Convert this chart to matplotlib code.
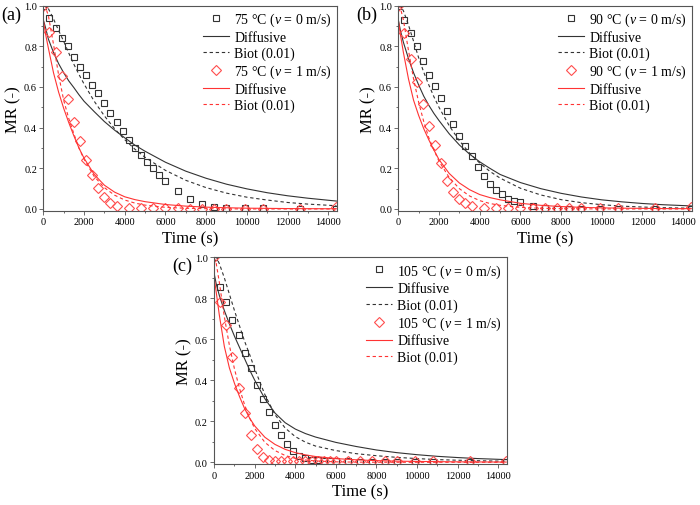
import matplotlib
matplotlib.use('Agg')
import matplotlib.pyplot as plt
from matplotlib.ticker import MultipleLocator

plt.rcParams['font.family'] = ['Liberation Serif', 'DejaVu Serif']
plt.rcParams['mathtext.fontset'] = 'custom'
plt.rcParams['mathtext.rm'] = 'Liberation Serif'
plt.rcParams['mathtext.it'] = 'Liberation Serif:italic'

# experimental sampling times (s)
t_exp = [0, 300, 600, 900, 1200, 1500, 1800, 2100, 2400, 2700, 3000, 3300, 3600,
         3900, 4200, 4500, 4800, 5100, 5400, 5700, 6000,
         6600, 7200, 7800, 8400, 9000, 9900, 10800, 12600, 14400]
t_exp_fast = [0, 300, 600, 900, 1200, 1500, 1800, 2100, 2400, 2700, 3000, 3300, 3600,
              4200, 4800, 5400, 6000, 6600, 7200, 7800, 8400, 9000, 9900, 10800, 12600, 14400]

# model curve times (s)
t_mod = [0, 100, 250, 500, 750, 1000, 1250, 1500, 1750, 2000, 2500, 3000, 3500,
         4000, 4500, 5000, 6000, 7000, 8000, 9000, 10000, 11000, 12000, 13000, 14400]

# (a) 75 C
mr_75_v0 = [1.0, 0.94, 0.89, 0.84, 0.80, 0.75, 0.70, 0.66, 0.61, 0.57, 0.52, 0.47, 0.43,
            0.385, 0.34, 0.30, 0.265, 0.23, 0.20, 0.165, 0.14,
            0.09, 0.05, 0.025, 0.012, 0.006, 0.004, 0.003, 0.002, 0.001]
mr_75_v1 = [1.0, 0.87, 0.77, 0.655, 0.54, 0.43, 0.335, 0.24, 0.165, 0.105, 0.06, 0.03, 0.013,
            0.004, 0.004, 0.003, 0.003, 0.003, 0.002, 0.002, 0.002, 0.002, 0.002, 0.002, 0.002, 0.008]
dif_75_v0 = [0.93, 0.895, 0.835, 0.77, 0.715, 0.67, 0.63, 0.597, 0.562, 0.53, 0.479, 0.43, 0.388,
             0.35, 0.314, 0.284, 0.23, 0.186, 0.151, 0.122, 0.099, 0.08, 0.065, 0.053, 0.039]
bio_75_v0 = [1.0, 1.0, 0.985, 0.935, 0.878, 0.825, 0.767, 0.712, 0.662, 0.615, 0.53, 0.458, 0.395,
             0.341, 0.294, 0.254, 0.19, 0.141, 0.105, 0.078, 0.058, 0.044, 0.032, 0.024, 0.016]
dif_75_v1 = [0.93, 0.865, 0.79, 0.67, 0.575, 0.495, 0.425, 0.36, 0.30, 0.25, 0.17, 0.117, 0.083,
             0.06, 0.046, 0.036, 0.022, 0.014, 0.009, 0.006, 0.004, 0.003, 0.002, 0.0015, 0.001]
bio_75_v1 = [1.0, 0.995, 0.95, 0.81, 0.66, 0.535, 0.445, 0.37, 0.30, 0.245, 0.16, 0.105, 0.068,
             0.044, 0.029, 0.019, 0.008, 0.0035, 0.0015, 0.0007, 0.0003, 0.0, 0.0, 0.0, 0.0]

# (b) 90 C
mr_90_v0 = [1.0, 0.93, 0.864, 0.80, 0.73, 0.66, 0.607, 0.546, 0.48, 0.418, 0.36, 0.311, 0.262,
            0.205, 0.164, 0.123, 0.093, 0.074, 0.05, 0.041, 0.033,
            0.013, 0.005, 0.002, 0.001, 0.001, 0.001, 0.001, 0.001, 0.001]
mr_90_v1 = [1.0, 0.864, 0.738, 0.623, 0.516, 0.41, 0.315, 0.225, 0.14, 0.085, 0.05, 0.03, 0.016,
            0.005, 0.004, 0.004, 0.004, 0.004, 0.003, 0.003, 0.003, 0.003, 0.004, 0.005, 0.005, 0.008]
dif_90_v0 = [0.93, 0.88, 0.82, 0.74, 0.67, 0.61, 0.555, 0.51, 0.47, 0.435, 0.37, 0.315, 0.27,
             0.232, 0.20, 0.17, 0.13, 0.10, 0.077, 0.059, 0.045, 0.035, 0.027, 0.021, 0.015]
bio_90_v0 = [1.0, 1.0, 0.975, 0.905, 0.825, 0.744, 0.673, 0.61, 0.552, 0.50, 0.41, 0.336, 0.275,
             0.226, 0.185, 0.152, 0.102, 0.069, 0.046, 0.031, 0.021, 0.014, 0.0095, 0.0064, 0.0037]
dif_90_v1 = [0.93, 0.86, 0.77, 0.64, 0.535, 0.46, 0.395, 0.34, 0.29, 0.243, 0.175, 0.128, 0.095,
             0.071, 0.056, 0.045, 0.028, 0.018, 0.012, 0.008, 0.0055, 0.004, 0.003, 0.002, 0.0015]
bio_90_v1 = [1.0, 0.99, 0.93, 0.78, 0.64, 0.525, 0.43, 0.35, 0.29, 0.235, 0.155, 0.10, 0.064,
             0.041, 0.027, 0.018, 0.008, 0.0035, 0.0015, 0.0007, 0.0003, 0.0, 0.0, 0.0, 0.0]

# (c) 105 C
t_exp_c = [0, 300, 600, 900, 1200, 1500, 1800, 2100, 2400, 2700, 3000, 3300, 3600,
           3900, 4200, 4500, 4800, 5100, 5400, 5700, 6000,
           6600, 7200, 7800, 8400, 9000, 9900, 10800, 12600, 14400]
mr_105_v0 = [1.0, 0.854, 0.78, 0.696, 0.623, 0.533, 0.46, 0.379, 0.309, 0.244, 0.184, 0.133, 0.089,
             0.054, 0.033, 0.02, 0.013, 0.01, 0.008, 0.006, 0.005,
             0.004, 0.003, 0.003, 0.002, 0.002, 0.002, 0.002, 0.002, 0.002]
mr_105_v1 = [1.0, 0.78, 0.67, 0.512, 0.361, 0.24, 0.135, 0.065, 0.028, 0.013, 0.008, 0.006, 0.005,
             0.004, 0.004, 0.004, 0.004, 0.005, 0.005, 0.005, 0.005,
             0.005, 0.005, 0.005, 0.005, 0.005, 0.005, 0.006, 0.008, 0.008]
dif_105_v0 = [0.92, 0.87, 0.815, 0.74, 0.675, 0.615, 0.56, 0.505, 0.45, 0.40, 0.31, 0.24, 0.193,
              0.162, 0.14, 0.123, 0.097, 0.077, 0.06, 0.047, 0.037, 0.029, 0.023, 0.018, 0.013]
bio_105_v0 = [1.0, 1.0, 0.97, 0.90, 0.82, 0.74, 0.665, 0.59, 0.525, 0.455, 0.33, 0.232, 0.167,
              0.125, 0.098, 0.079, 0.057, 0.042, 0.032, 0.024, 0.018, 0.013, 0.01, 0.0075, 0.005]
dif_105_v1 = [0.90, 0.83, 0.72, 0.565, 0.46, 0.385, 0.32, 0.262, 0.215, 0.177, 0.122, 0.087, 0.063,
              0.047, 0.036, 0.028, 0.018, 0.012, 0.008, 0.0055, 0.004, 0.003, 0.002, 0.0015, 0.001]
bio_105_v1 = [1.0, 0.97, 0.88, 0.71, 0.57, 0.455, 0.36, 0.28, 0.215, 0.165, 0.097, 0.057, 0.033,
              0.019, 0.011, 0.0065, 0.002, 0.0007, 0.0002, 0.0, 0.0, 0.0, 0.0, 0.0, 0.0]

panels = [
    ('(a)', '75', t_exp, mr_75_v0, t_exp_fast, mr_75_v1, dif_75_v0, bio_75_v0, dif_75_v1, bio_75_v1),
    ('(b)', '90', t_exp, mr_90_v0, t_exp_fast, mr_90_v1, dif_90_v0, bio_90_v0, dif_90_v1, bio_90_v1),
    ('(c)', '105', t_exp_c, mr_105_v0, t_exp_c, mr_105_v1, dif_105_v0, bio_105_v0, dif_105_v1, bio_105_v1),
]

BLK = '#333333'
RED = '#ff3333'
SPINE = '#555555'

fig = plt.figure(figsize=(7.0, 5.06), dpi=100)
rects = [
    [0.0619, 0.581, 0.4192, 0.4058],
    [0.569, 0.581, 0.4192, 0.4058],
    [0.306, 0.0804, 0.4177, 0.4091],
]

for rect, (tag, temp, t0, y0, t1, y1, d0, b0, d1, b1) in zip(rects, panels):
    ax = fig.add_axes(rect)
    ax.plot(t0, y0, 's', ms=4.3, mfc='none', mec=BLK, mew=0.8,
            label=temp + r' °C ($v$ = 0 m/s)')
    ax.plot(t_mod, d0, '-', color=BLK, lw=0.8, label='Diffusive')
    ax.plot(t_mod, b0, '--', color=BLK, lw=0.8, dashes=(3, 2.5), label='Biot (0.01)')
    ax.plot(t1, y1, 'D', ms=4.6, mfc='none', mec='#ff4d4d', mew=0.8,
            label=temp + r' °C ($v$ = 1 m/s)')
    ax.plot(t_mod, d1, '-', color=RED, lw=0.8, label='Diffusive')
    ax.plot(t_mod, b1, '--', color=RED, lw=0.8, dashes=(3, 2.5), label='Biot (0.01)')

    ax.set_xlim(0, 14420)
    ax.set_ylim(-0.01, 1.0)
    ax.set_xticks(range(0, 14001, 2000))
    ax.set_yticks([0.0, 0.2, 0.4, 0.6, 0.8, 1.0])
    ax.set_yticklabels(['0.0', '0.2', '0.4', '0.6', '0.8', '1.0'])
    ax.xaxis.set_minor_locator(MultipleLocator(1000))
    ax.yaxis.set_minor_locator(MultipleLocator(0.1))
    ax.tick_params(which='major', direction='out', length=3, width=0.6, color=SPINE,
                   labelsize=7.5, pad=1.5)
    ax.tick_params(which='minor', direction='out', length=1.6, width=0.6, color=SPINE)
    for s in ax.spines.values():
        s.set_color(SPINE)
        s.set_linewidth(0.8)

    ax.set_xlabel('Time (s)', fontsize=12, labelpad=3)
    ax.set_ylabel('MR (-)', fontsize=12, labelpad=2)
    ax.text(-0.108, 0.96, tag, transform=ax.transAxes, ha='center', va='center', fontsize=13)

    ax.legend(loc='upper right', frameon=False, fontsize=10, handlelength=1.9,
              handletextpad=0.35, labelspacing=0.2, borderaxespad=0.15, borderpad=0.2,
              numpoints=1)

fig.savefig('out.png', dpi=100)
